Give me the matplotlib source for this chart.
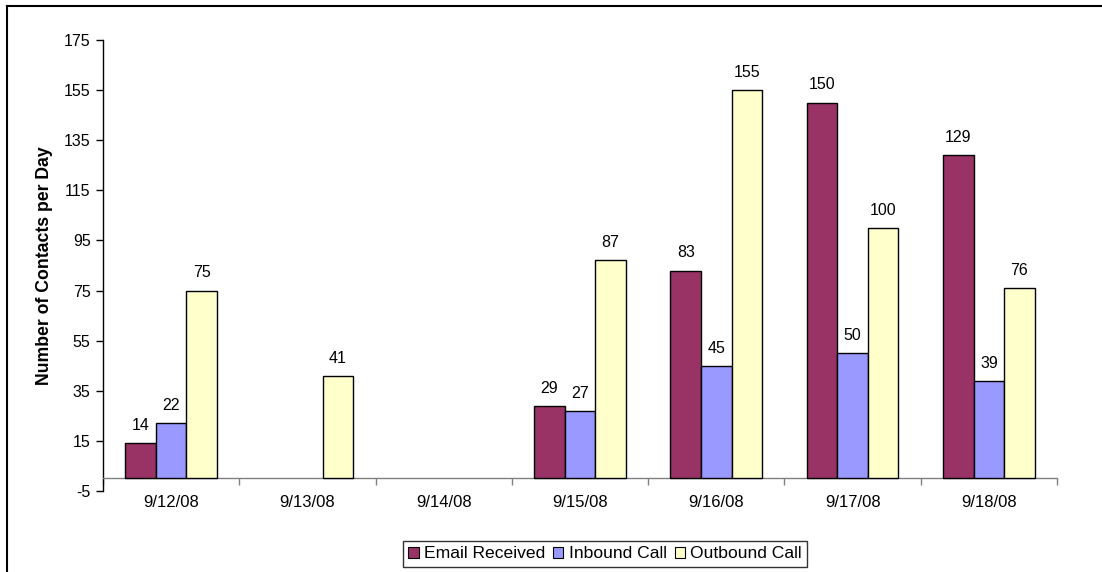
import numpy as np
import matplotlib
matplotlib.use("Agg")
import matplotlib.pyplot as plt
from matplotlib.lines import Line2D
from matplotlib.patches import Patch

plt.rcParams['font.family'] = ['Liberation Sans', 'DejaVu Sans']

dates = ['9/12/08', '9/13/08', '9/14/08', '9/15/08', '9/16/08', '9/17/08', '9/18/08']
email = [14, np.nan, np.nan, 29, 83, 150, 129]
inbound = [22, np.nan, np.nan, 27, 45, 50, 39]
outbound = [75, 41, np.nan, 87, 155, 100, 76]
series_names = ['Email Received', 'Inbound Call', 'Outbound Call']
colors = ['#993366', '#9999FF', '#FFFFCC']
yticks = [-5, 15, 35, 55, 75, 95, 115, 135, 155, 175]

fig = plt.figure(figsize=(11.02, 5.72), dpi=100)
ax = fig.add_axes([103/1102, 1-491/572, (1057-103)/1102, (491-40)/572])

x = np.arange(len(dates))
w = 0.224
for j, (vals, col, name) in enumerate(zip([email, inbound, outbound], colors, series_names)):
    pos = x + (j - 1) * w
    vals = np.array(vals, dtype=float)
    mask = ~np.isnan(vals)
    ax.bar(pos[mask], vals[mask], width=w, color=col, edgecolor='black', linewidth=1.0, label=name, zorder=3)
    for px, v in zip(pos[mask], vals[mask]):
        ax.annotate(f"{int(v)}", (px, v), xytext=(0, 9.5), textcoords='offset points',
                    ha='center', va='baseline', fontsize=11.5, zorder=4)

ax.set_xlim(-0.5, len(dates) - 0.5)
ax.set_ylim(-5, 175)
ax.set_yticks(yticks)
ax.set_yticklabels([str(t) for t in yticks], fontsize=11.5)
ax.tick_params(axis='y', length=5, width=1, color='black', pad=4)

ax.spines['top'].set_visible(False)
ax.spines['right'].set_visible(False)
ax.spines['left'].set_color('black')
ax.spines['left'].set_linewidth(1.0)
ax.spines['bottom'].set_position(('data', 0))
ax.spines['bottom'].set_color('#808080')
ax.spines['bottom'].set_linewidth(1.0)

ax.set_xticks(x)
ax.set_xticklabels(dates, fontsize=12)
ax.tick_params(axis='x', which='major', length=0, pad=12)
ax.set_xticks(np.arange(len(dates) + 1) - 0.5, minor=True)
ax.tick_params(axis='x', which='minor', length=5, width=1, color='#808080', direction='out')

ax.set_ylabel('Number of Contacts per Day', fontsize=12.7, fontweight='bold', labelpad=8)

handles = [Patch(facecolor=c, edgecolor='black', linewidth=0.8) for c in colors]
leg = fig.legend(handles, series_names, loc='upper center', bbox_to_anchor=(605/1102, 1-541/572),
                 ncol=3, fontsize=12.6, frameon=True, fancybox=False, handlelength=0.6, handleheight=0.6,
                 handletextpad=0.3, columnspacing=0.45, borderpad=0.3, borderaxespad=0)
leg.get_frame().set_edgecolor('black')
leg.get_frame().set_linewidth(1.0)

fig.add_artist(Line2D([7/1102, 1.0], [1-6/572, 1-6/572], color='black', lw=1.5, transform=fig.transFigure))
fig.add_artist(Line2D([7/1102, 7/1102], [0, 1-6/572], color='black', lw=1.5, transform=fig.transFigure))

fig.savefig('out.png', dpi=100)
